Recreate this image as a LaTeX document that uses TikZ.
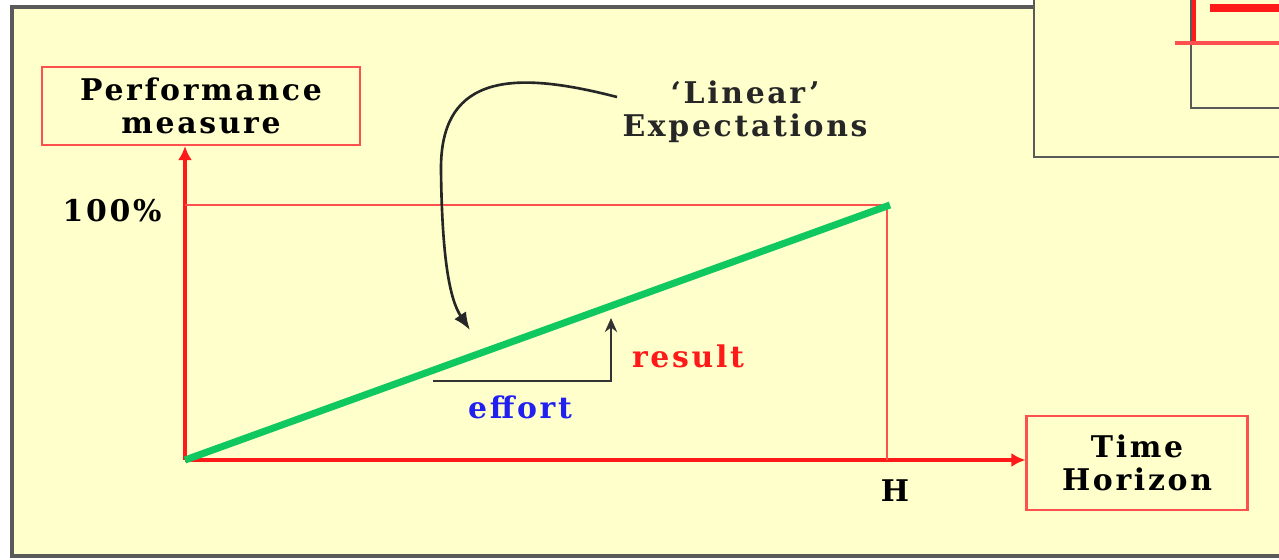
\documentclass[tikz,border=0pt]{standalone}
\usepackage{fontspec}
\usepackage{xcolor}
\usepackage{tikz}
\usetikzlibrary{arrows.meta,positioning,calc}
\setmainfont{DejaVu Serif}
\newfontfamily\labelfont[LetterSpace=9]{DejaVu Serif}
\definecolor{paper}{HTML}{FFFFCC}
\definecolor{frame}{HTML}{5A5A5A}
\definecolor{axisred}{HTML}{FF1A1A}
\definecolor{linered}{HTML}{FF5050}
\definecolor{trend}{HTML}{10C860}
\definecolor{effortblue}{HTML}{2020F0}
\tikzset{
  txt/.style={font=\labelfont\fontsize{17}{18.5}\selectfont\bfseries},
  labelbox/.style={txt,rectangle,draw=linered,line width=1.2pt,fill=paper,
    align=center,inner sep=2pt},
  axis/.style={-{Latex[length=8pt,width=8pt]},line width=2pt,color=axisred},
  guide/.style={line width=1.1pt,color=linered},
  steparrow/.style={-{Stealth[length=8pt,width=7pt]},line width=1.6pt,color=black!80},
  curvearrow/.style={-{Latex[length=10pt,width=8pt]},line width=1.5pt,color=black!85},
}

\begin{document}
\begin{tikzpicture}[x=0.02cm,y=-0.02cm,every node/.style={txt}]

  % page and frames
  \useasboundingbox (0,0) rectangle (1279,559);
  \fill[white] (0,0) rectangle (1279,559);
  \draw[frame,line width=1.8pt,fill=paper] (12,7) rectangle (1300,556);
  \draw[frame,line width=1.5pt,fill=paper] (1034,-20) rectangle (1300,157);
  \draw[frame,line width=1.5pt] (1191,-20) rectangle (1300,108);
  \draw[axisred,line width=2pt] (1194,-20) -- (1194,43);
  \draw[linered,line width=2.5pt] (1175,43) -- (1300,43);
  \draw[axisred,line width=4.5pt] (1210,8) -- (1300,8);

  % boxes and points
  \node[labelbox,minimum width=6.36cm,minimum height=1.56cm] (perf) at (201,106)
    {Performance\\measure};
  \node[labelbox,minimum width=4.42cm,minimum height=1.88cm] (time) at (1137,463)
    {Time\\Horizon};
  \coordinate (O) at (185,460);
  \coordinate (T) at (887,205);

  % axes
  \draw[axis] (O) -- (O |- perf.south);
  \draw[axis] (O) -- (O -| time.west);
  \draw[guide] (O |- T) -- (T) -- (T |- O);
  \node (full) at (112,211) {100\%};
  \node (hor) at (895,491) {H};

  % expectation line
  \draw[trend,line width=4pt] (O) -- (890,205);

  % effort and result
  \coordinate (e1) at (433,381);
  \coordinate (e2) at (611,381);
  \coordinate (e3) at (611,318);
  \draw[steparrow] (e1) -- (e2) -- (e3);
  \node[text=axisred] (res) at (688,356) {result};
  \node[text=effortblue] (eff) at (520,407) {effort};

  % annotation
  \node[align=center,text=black!85] (lin) at (745,112) {‘Linear’\\Expectations};
  \coordinate (tip) at (470,330);
  \draw[curvearrow] (617,97) .. controls (520,72) and (440,70) .. (441,170)
    .. controls (442,260) and (450,300) .. (tip);
\end{tikzpicture}
\end{document}
